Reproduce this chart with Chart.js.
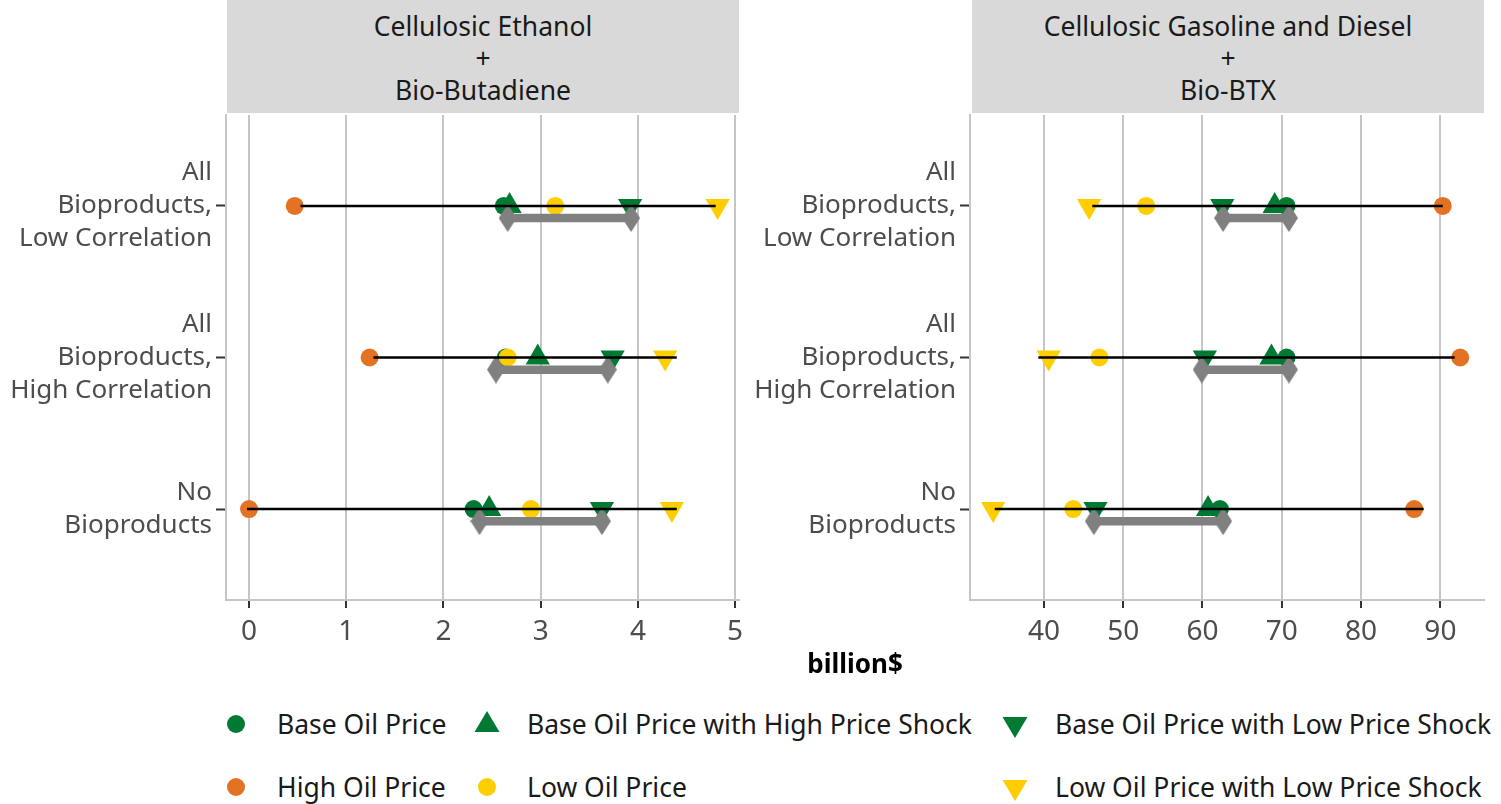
<!DOCTYPE html>
<html>
<head>
<meta charset="utf-8">
<script src="https://cdn.jsdelivr.net/npm/chart.js@4"></script>
<style>
  body { margin: 0; background: #fff; width: 1501px; height: 804px; position: relative; overflow: hidden; font-family: "Noto Sans", sans-serif; }
  .strip { position: absolute; top: 0; height: 113px; background: #d9d9d9; color: #1a1a1a; font-size: 26.5px; line-height: 32px; text-align: center; padding-top: 10px; box-sizing: border-box; }
  canvas { position: absolute; }
  #xtitle { position: absolute; left: 0; width: 1710px; top: 645px; text-align: center; font-weight: bold; font-size: 26px; color: #000; }
  .leg { position: absolute; display: flex; align-items: center; font-size: 26.5px; color: #1a1a1a; white-space: nowrap; }
  .leg svg { position: absolute; }
</style>
</head>
<body>
<div class="strip" style="left:227px;width:512px;">Cellulosic Ethanol<br>+<br>Bio-Butadiene</div>
<div class="strip" style="left:972px;width:512px;">Cellulosic Gasoline and Diesel<br>+<br>Bio-BTX</div>
<canvas id="left" width="760" height="537" style="left:0;top:113px;"></canvas>
<canvas id="right" width="757" height="537" style="left:744px;top:113px;"></canvas>
<div id="xtitle">billion$</div>
<div id="legend"></div>
<script>
// rows, top to bottom
const rowLabels = [
  ['All', 'Bioproducts,', 'Low Correlation'],
  ['All', 'Bioproducts,', 'High Correlation'],
  ['No', 'Bioproducts']
];

// Cellulosic Ethanol + Bio-Butadiene
const ethBase = [2.62, 2.64, 2.31];
const ethBaseHigh = [2.68, 2.97, 2.47];
const ethBaseLow = [3.92, 3.74, 3.63];
const ethHigh = [0.47, 1.24, 0.00];
const ethLow = [3.15, 2.66, 2.90];
const ethLowLow = [4.82, 4.28, 4.35];
const ethRangeLo = [2.66, 2.54, 2.37];
const ethRangeHi = [3.93, 3.69, 3.63];
const ethSpanLo = [0.53, 1.28, -0.02];
const ethSpanHi = [4.80, 4.40, 4.40];
const ethTicks = [0, 1, 2, 3, 4, 5];

// Cellulosic Gasoline and Diesel + Bio-BTX
const gasBase = [70.6, 70.6, 62.2];
const gasBaseHigh = [69.1, 68.7, 60.7];
const gasBaseLow = [62.5, 60.3, 46.5];
const gasHigh = [90.3, 92.5, 86.7];
const gasLow = [52.9, 47.0, 43.7];
const gasLowLow = [45.7, 40.6, 33.6];
const gasRangeLo = [62.6, 59.9, 46.3];
const gasRangeHi = [70.9, 70.9, 62.6];
const gasSpanLo = [46.1, 39.3, 33.8];
const gasSpanHi = [90.3, 91.8, 87.9];
const gasTicks = [40, 50, 60, 70, 80, 90];

const GREEN = '#007a33';
const ORANGE = '#e37222';
const YELLOW = '#ffcd00';
const GRAY = '#808080';

// diamond end for the gray range bar
const diamond = document.createElement('canvas');
diamond.width = 18; diamond.height = 28;
(() => {
  const c = diamond.getContext('2d');
  c.fillStyle = GRAY;
  c.beginPath();
  c.moveTo(9, 0); c.lineTo(18, 14); c.lineTo(9, 28); c.lineTo(0, 14);
  c.closePath(); c.fill();
})();

function pts(arr) {
  return arr.map((v, i) => ({ x: v, y: i + 1 }));
}

function pointSet(arr, color, style, rot, r, order) {
  return {
    data: pts(arr), backgroundColor: color, borderWidth: 0,
    pointStyle: style, rotation: rot, pointRadius: r, order: order
  };
}

function makePanel(id, s, xmin, xmax, ticks) {
  const datasets = [];
  // black span lines on top
  s.spanLo.forEach((lo, i) => {
    datasets.push({
      data: [{ x: lo, y: i + 1 }, { x: s.spanHi[i], y: i + 1 }],
      showLine: true, borderColor: '#000', borderWidth: 2.5, pointRadius: 0, order: 0
    });
  });
  // gray range bars with diamond ends
  s.rangeLo.forEach((lo, i) => {
    datasets.push({
      data: [{ x: lo, y: i + 1.08 }, { x: s.rangeHi[i], y: i + 1.08 }],
      showLine: true, borderColor: GRAY, borderWidth: 8.5,
      pointStyle: diamond, pointRadius: 10, order: 1
    });
  });
  datasets.push(pointSet(s.lowLow, YELLOW, 'triangle', 180, 14, 2));
  datasets.push(pointSet(s.low, YELLOW, 'circle', 0, 9, 3));
  datasets.push(pointSet(s.high, ORANGE, 'circle', 0, 9, 4));
  datasets.push(pointSet(s.baseLow, GREEN, 'triangle', 180, 14, 5));
  datasets.push(pointSet(s.baseHigh, GREEN, 'triangle', 0, 14, 6));
  datasets.push(pointSet(s.base, GREEN, 'circle', 0, 9, 7));

  new Chart(document.getElementById(id), {
    type: 'scatter',
    data: { datasets: datasets },
    options: {
      responsive: false,
      animation: false,
      layout: { autoPadding: false, padding: { top: 2, right: id === 'left' ? 21 : 17, bottom: 0, left: 0 } },
      plugins: { legend: { display: false }, tooltip: { enabled: false } },
      scales: {
        x: {
          type: 'linear', min: xmin, max: xmax,
          afterBuildTicks: (sc) => { sc.ticks = ticks.map(v => ({ value: v })); },
          afterFit: (sc) => { sc.height = 50; sc.paddingLeft = 0; sc.paddingRight = 0; },
          grid: { color: '#c6c6c6', lineWidth: 2, tickColor: '#333', tickLength: 8, tickWidth: 2 },
          border: { color: '#c6c6c6', width: 2 },
          ticks: { color: '#4d4d4d', padding: 7, font: { family: 'Noto Sans', size: 28 }, maxRotation: 0 }
        },
        y: {
          type: 'linear', min: 0.4, max: 3.6, reverse: true,
          afterBuildTicks: (sc) => { sc.ticks = [1, 2, 3].map(v => ({ value: v })); },
          afterFit: (sc) => { sc.width = 226; sc.paddingTop = 0; sc.paddingBottom = 0; },
          grid: { drawOnChartArea: false, tickColor: '#333', tickLength: 10, tickWidth: 2 },
          border: { color: '#c6c6c6', width: 2 },
          ticks: {
            color: '#4d4d4d', padding: 4,
            font: { family: 'Noto Sans', size: 26, lineHeight: 1.27 },
            callback: (v) => rowLabels[v - 1]
          }
        }
      }
    }
  });
}

makePanel('left', {
  base: ethBase, baseHigh: ethBaseHigh, baseLow: ethBaseLow, high: ethHigh, low: ethLow, lowLow: ethLowLow,
  rangeLo: ethRangeLo, rangeHi: ethRangeHi, spanLo: ethSpanLo, spanHi: ethSpanHi
}, -0.237, 5.04, ethTicks);

makePanel('right', {
  base: gasBase, baseHigh: gasBaseHigh, baseLow: gasBaseLow, high: gasHigh, low: gasLow, lowLow: gasLowLow,
  rangeLo: gasRangeLo, rangeHi: gasRangeHi, spanLo: gasSpanLo, spanHi: gasSpanHi
}, 30.68, 95.5, gasTicks);

// legend, laid out like the reference (3 columns, 2 rows)
const legendItems = [
  { label: 'Base Oil Price', color: GREEN, shape: 'circle', x: 236, y: 724 },
  { label: 'High Oil Price', color: ORANGE, shape: 'circle', x: 236, y: 787 },
  { label: 'Base Oil Price with High Price Shock', color: GREEN, shape: 'up', x: 487, y: 724 },
  { label: 'Low Oil Price', color: YELLOW, shape: 'circle', x: 487, y: 787 },
  { label: 'Base Oil Price with Low Price Shock', color: GREEN, shape: 'down', x: 1015, y: 724 },
  { label: 'Low Oil Price with Low Price Shock', color: YELLOW, shape: 'down', x: 1015, y: 787 }
];
const legend = document.getElementById('legend');
legendItems.forEach(it => {
  let shape;
  if (it.shape === 'circle') shape = `<circle cx="14" cy="14" r="9" fill="${it.color}"/>`;
  else if (it.shape === 'up') shape = `<polygon points="14,1 26.5,22 1.5,22" fill="${it.color}"/>`;
  else shape = `<polygon points="1.5,7 26.5,7 14,28" fill="${it.color}"/>`;
  const el = document.createElement('div');
  el.className = 'leg';
  el.style.left = (it.x - 14) + 'px';
  el.style.top = (it.y - 16) + 'px';
  el.style.height = '32px';
  el.innerHTML = `<svg width="28" height="28" style="left:0;top:2px">${shape}</svg><span style="margin-left:${it.x === 236 ? 55 : 54}px">${it.label}</span>`;
  legend.appendChild(el);
});
</script>
</body>
</html>
